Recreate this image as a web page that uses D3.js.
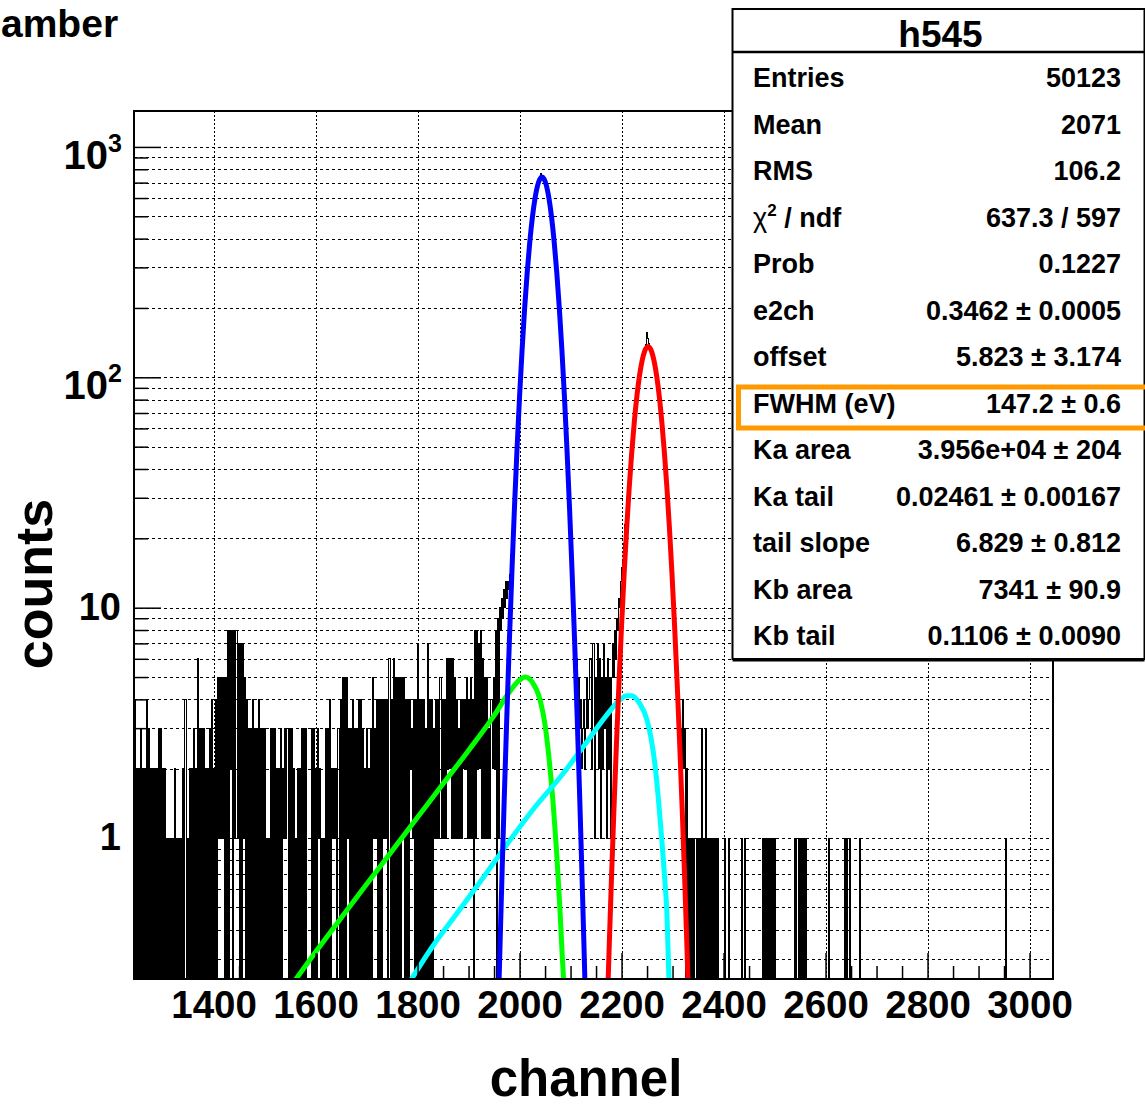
<!DOCTYPE html>
<html><head><meta charset="utf-8">
<script src="https://cdnjs.cloudflare.com/ajax/libs/d3/7.8.5/d3.min.js"></script>
<style>
html,body{margin:0;padding:0;background:#fff;}
svg{display:block;}
text{font-family:"Liberation Sans",Arial,Helvetica,sans-serif;font-weight:bold;fill:#000;}
</style></head><body>
<svg id="chart" width="1145" height="1107"></svg>
<script>
// ---------------- DATA ----------------
const titleText = "amber";
const xTitle = "channel";
const yTitle = "counts";
const histName = "h545";
const xDomain = [1244, 3046];          // channel range of the frame
const yDomain = [0.2445, 1432];        // log axis range
const xTickLabels = [1400,1600,1800,2000,2200,2400,2600,2800,3000];
const xMinorStep = 50;
const yTickValues = [1,10,100,1000];
const yTickBase = ["1","10","10","10"];
const yTickExp = ["","","2","3"];

// histogram: 2-channel bins starting at histStart
const histStart = 1244, histEnd = 3046, binWidth = 2;
// background region 1244-1960, read per 4-channel column: upper and lower count of the alternating bins
const bgTop = [4,2,2,3,2,2,4, 3,2,2,2,2,3,3,2,2, 1,1,1,1,2,1,1,1, 2,4,1, 2,2,3,2, 6, 3,3,3,2,2,3, 4,2,4,
 5,5,5,5,5,8,8,8,8,8,7,7,7,5,4,3,3,4,3,3,4,3,3,
 3,1,1,3,3,3,2,2,3,2, 3,3,3,3,2,1,2,2,3,3, 3,0,0,3,3,2,3,2,1,1, 3,3,4,2,2,2,3,4,5,5,
 5,3,3,4,3,3,4,4,3,2, 3,2,3,5,3,4,4,4,4,4, 4,6,4,6,
 5,5,5,5,5,4,4,4,3,4, 4,7,4,4,4,3,7,4,4,3, 4,4,5,4,4,6,6,6,6,5, 4,3,4,4,4,5,4,5,4,8,
 8,7,8,6,5,5,3,4,5,8, 9];
const bgBase = [0,0,0,0,0,0,0,0,0,0, 0,0,0,0,0,0,0,0,0,0, 0,0,0,0,0,0,0,0,0,0, 0,0,0,0,0,0,0,0,0,0, 0,
 1,1,1,0,0,0,2,0,1,1,0,0,1, 0,0,0,0,0,0,0,0,0,0,
 0,0,0,0,0,0,0,0,0,1, 1,0,0,0,0,0,0,0,0,0, 0,0,0,0,0,0,1,0,0,0, 0,0,0,1,1,0,0,0,0,0,
 1,0,0,0,0,0,0,0,0,0, 0,0,0,1,1,0,0,0,1,1, 0,0,0,0,
 0,0,0,1,0,0,0,2,1,0, 0,0,0,0,0,0,0,0,0,1, 1,1,1,1,1,2,2,1,1,1, 1,1,1,2,2,1,1,1,0,1,
 2,2,1,1,1,1,1,2,2,0, 1];
// K-alpha peak region 1960-2140 (2-channel bins)
const kaCounts = [10,8,11,9,12,10,13,11,13,12, 14,17,21,23,31,35,47,52,68,79, 99,113,141,160,193,218,258,289,333,366,
 414,450,500,534,580,612,653,676,709,720, 741,768,746,730,724,698,681,642,617,570, 539,488,455,404,369,321,290,247,220,183,
 161,131,114,90,78,60,52,38,33,24, 21,15,13,9,9,6,6,4,5,3, 4,2,3,4,2,3,5,3,4,6];
// K-beta peak region 2140-2340 (2-channel bins)
const kbCounts = [6,2,7,1,5,3,7,2,6,1, 5,2,7,3,5,1,6,2,5,1, 5,7,5,8,6,9,8,11,10,13,
 15,16,19,23,24,30,33,39,42,50, 56,61,70,75,85,90,99,104,114,117, 126,130,131,139,156,148,140,136,134,129,
 127,120,116,108,103,94,88,79,73,63, 58,50,46,38,34,28,25,20,18,14, 12,9,8,6,5,4,4,3,3,2, 4,2,3,0,2,0,1,0,1,0];
// sparse high-channel tail (non-empty bins only)
const tailCh = [2340,2344,2348,2352,2356,2360,2364,2368,2372,2376,2380,2384,2388,2402,2410,2436,2442,
 2476,2480,2484,2488,2492,2496,2500,2540,2544,2548,2552,2556,2560,2606,2638,2642,2646,2666,2952];
const tailCount = [1,1,1,1,3,1,3,1,1,1,1,1,1,1,1,1,1, 1,1,1,1,1,1,1,1,1,1,1,1,1,1,1,1,1,1,1];

// fit components
const blueCh = [1958,1962,1966,1970,1975,1980,1985,1990,1995,2000,2005,2010,2015,2020,2025,2030,2035,2040,2044,2048,2053,2058,2063,2068,2073,2078,2083,2088,2093,2098,2103,2108,2113,2118,2122,2126,2130];
const blueVal = [0.169,0.361,0.747,1.49,3.35,7.12,14.3,27.1,48.6,82.4,132,199.5,285,385,491,592.6,675,726.7,740,726.7,675,592.6,491,385,285,199.5,132,82.4,48.6,27.1,14.3,7.12,3.35,1.49,0.747,0.361,0.169];
const redCh = [2172,2176,2180,2185,2190,2195,2200,2205,2210,2215,2220,2225,2230,2235,2240,2245,2252,2259,2264,2269,2274,2279,2284,2289,2294,2299,2304,2309,2314,2319,2324,2328,2332];
const redVal = [0.183,0.349,0.642,1.32,2.56,4.74,8.33,13.9,22,33.1,47.2,64,82.5,100.9,117.2,129.3,136,129.3,117.2,100.9,82.5,64,47.2,33.1,22,13.9,8.33,4.74,2.56,1.32,0.642,0.349,0.183];
const greenCh = [1556,1600,1650,1700,1750,1800,1850,1900,1950,1980,2000,2011,2025,2040,2050,2058,2066,2073,2079,2084,2087];
const greenVal = [0.235,0.32,0.45,0.63,0.88,1.23,1.72,2.4,3.4,4.3,4.85,5.0,4.75,4.0,3.1,2.2,1.4,0.85,0.5,0.3,0.23];
const cyanCh = [1786,1830,1880,1930,1980,2030,2080,2130,2170,2195,2210,2220,2235,2250,2258,2266,2272,2279,2285,2289,2293];
const cyanVal = [0.24,0.34,0.48,0.68,0.97,1.36,1.84,2.58,3.4,3.95,4.15,4.15,3.85,3.25,2.7,2.04,1.5,0.98,0.65,0.47,0.24];

// stats box
const statLabels = ["Entries","Mean","RMS","χ2 / ndf","Prob","e2ch","offset","FWHM (eV)","Ka area","Ka tail","tail slope","Kb area","Kb tail"];
const statValues = ["50123","2071","106.2","637.3 / 597","0.1227","0.3462 ± 0.0005","5.823 ± 3.174","147.2 ± 0.6","3.956e+04 ± 204","0.02461 ± 0.00167","6.829 ± 0.812","7341 ± 90.9","0.1106 ± 0.0090"];
const highlightRow = "FWHM (eV)";

// ---------------- DRAW ----------------
const svg = d3.select("#chart");
const F = {left:134, right:1053, top:111, bottom:979};
const x = d3.scaleLinear().domain(xDomain).range([F.left, F.right]);
const y = d3.scaleLog().domain(yDomain).range([F.bottom, F.top]);
const yv = v => v > 0 ? y(v) : F.bottom + 1;

svg.append("rect").attr("width",1145).attr("height",1107).attr("fill","#fff");
svg.append("defs").append("clipPath").attr("id","fr").append("rect")
  .attr("x",F.left).attr("y",F.top).attr("width",F.right-F.left).attr("height",F.bottom-F.top);

// grid
const grid = svg.append("g");
grid.selectAll("line.h").data(y.ticks()).join("line")
  .attr("x1",F.left).attr("x2",F.right).attr("y1",d=>Math.round(y(d))+0.5).attr("y2",d=>Math.round(y(d))+0.5)
  .attr("stroke","#000").attr("stroke-width",1).attr("stroke-dasharray","3,3");
grid.selectAll("line.v").data(xTickLabels).join("line")
  .attr("y1",F.top).attr("y2",F.bottom).attr("x1",d=>Math.round(x(d))+0.5).attr("x2",d=>Math.round(x(d))+0.5)
  .attr("stroke","#000").attr("stroke-width",1).attr("stroke-dasharray","2,2");

// histogram bins
const bins = [];
bgTop.forEach((t,i)=>{ bins.push(t, bgBase[i]); });
kaCounts.forEach(v=>bins.push(v));
kbCounts.forEach(v=>bins.push(v));
const tailStart = histStart + bins.length*binWidth;
const tail = new Array(Math.round((histEnd-tailStart)/binWidth)).fill(0);
tailCh.forEach((c,i)=>{ const k=Math.round((c-tailStart)/binWidth); if(k>=0&&k<tail.length) tail[k]=tailCount[i]; });
tail.forEach(v=>bins.push(v));
const pts = [[histStart,0]];
bins.forEach((v,i)=>pts.push([histStart+i*binWidth, v]));
pts.push([histEnd, bins[bins.length-1]]);
pts.push([histEnd, 0]);
const stepLine = d3.line().x(d=>x(d[0])).y(d=>yv(d[1])).curve(d3.curveStepAfter);
svg.append("path").attr("d",stepLine(pts)).attr("fill","none").attr("stroke","#000")
  .attr("stroke-width",1).attr("shape-rendering","crispEdges").attr("clip-path","url(#fr)");

// fit curves
const cl = d3.line().x(d=>x(d[0])).y(d=>y(d[1])).curve(d3.curveMonotoneX);
const curves = [[greenCh,greenVal,"#00ff00"],[cyanCh,cyanVal,"#00ffff"],[blueCh,blueVal,"#0000ff"],[redCh,redVal,"#ff0000"]];
const cg = svg.append("g").attr("clip-path","url(#fr)");
curves.forEach(([cx,cv,col])=>{
  cg.append("path").attr("d",cl(cx.map((c,i)=>[c,cv[i]]))).attr("fill","none")
    .attr("stroke",col).attr("stroke-width",5).attr("stroke-linejoin","round");
});

// axes (ticks inside frame)
const xMinor = d3.range(Math.ceil(xDomain[0]/xMinorStep)*xMinorStep, xDomain[1], xMinorStep).filter(v=>!xTickLabels.includes(v));
const axB = svg.append("g").attr("transform",`translate(0,${F.bottom})`);
axB.call(d3.axisBottom(x).tickValues(xMinor).tickSize(-13).tickFormat(""));
const axB2 = svg.append("g").attr("transform",`translate(0,${F.bottom})`);
axB2.call(d3.axisBottom(x).tickValues(xTickLabels).tickSize(-26).tickPadding(12).tickFormat(d3.format("d")));
[axB,axB2].forEach(g=>{g.select(".domain").remove(); g.selectAll("line").attr("stroke-width",1.5);});
axB2.selectAll("text").attr("font-size","38.5px").attr("font-family","Liberation Sans, Arial, sans-serif").attr("font-weight","bold");

const yMinor = y.ticks().filter(v=>!yTickValues.includes(v));
const axL = svg.append("g").attr("transform",`translate(${F.left},0)`);
axL.call(d3.axisLeft(y).tickValues(yMinor).tickSize(-14).tickFormat(""));
const axL2 = svg.append("g").attr("transform",`translate(${F.left},0)`);
axL2.call(d3.axisLeft(y).tickValues(yTickValues).tickSize(-27).tickFormat(""));
[axL,axL2].forEach(g=>{g.select(".domain").remove(); g.selectAll("line").attr("stroke-width",1.5);});

// y tick labels with superscripts
yTickValues.forEach((v,i)=>{
  const yy = y(v);
  if (yTickExp[i]) {
    const t = svg.append("text").attr("x",122).attr("y",yy+22).attr("text-anchor","end").attr("font-size","40px");
    t.append("tspan").text(yTickBase[i]);
    t.append("tspan").attr("font-size","25px").attr("dy",-17).text(yTickExp[i]);
  } else {
    svg.append("text").attr("x",121).attr("y",yy+12).attr("text-anchor","end").attr("font-size","38px").text(yTickBase[i]);
  }
});

// frame
svg.append("rect").attr("x",F.left).attr("y",F.top).attr("width",F.right-F.left).attr("height",F.bottom-F.top)
  .attr("fill","none").attr("stroke","#000").attr("stroke-width",2);

// titles
svg.append("text").attr("x",1).attr("y",37).attr("text-anchor","start").attr("font-size","39px").text(titleText);
svg.append("text").attr("x",586).attr("y",1096).attr("text-anchor","middle").attr("font-size","51px").text(xTitle);
svg.append("text").attr("transform","translate(52,584) rotate(-90)").attr("text-anchor","middle").attr("font-size","52px").text(yTitle);

// stats box
const SB = {x:732.5, y:9, w:412, h:650};
svg.append("rect").attr("x",SB.x).attr("y",SB.y).attr("width",SB.w).attr("height",SB.h)
  .attr("fill","#fff").attr("stroke","#000").attr("stroke-width",2);
svg.append("line").attr("x1",SB.x).attr("x2",SB.x+SB.w).attr("y1",SB.y+SB.h+1).attr("y2",SB.y+SB.h+1).attr("stroke","#000").attr("stroke-width",3);
svg.append("line").attr("x1",SB.x).attr("x2",SB.x+SB.w).attr("y1",52).attr("y2",52).attr("stroke","#000").attr("stroke-width",2.5);
svg.append("text").attr("x",SB.x+SB.w/2+2).attr("y",47).attr("text-anchor","middle").attr("font-size","37px").text(histName);
statLabels.forEach((lab,i)=>{
  const by = 87 + 46.5*i;
  const t = svg.append("text").attr("x",753).attr("y",by).attr("font-size","27px");
  if (lab.startsWith("χ2")) {
    t.append("tspan").attr("font-weight","normal").text("χ");
    t.append("tspan").attr("font-size","17px").attr("dy",-11).text("2");
    t.append("tspan").attr("dy",11).text(" / ndf");
  } else t.text(lab);
  svg.append("text").attr("x",1121).attr("y",by).attr("text-anchor","end").attr("font-size","27px").text(statValues[i]);
  if (lab === highlightRow) {
    svg.append("rect").attr("x",738.5).attr("y",by-25.5).attr("width",412).attr("height",41)
      .attr("fill","none").attr("stroke","#ff9900").attr("stroke-width",5);
  }
});
</script></body></html>
